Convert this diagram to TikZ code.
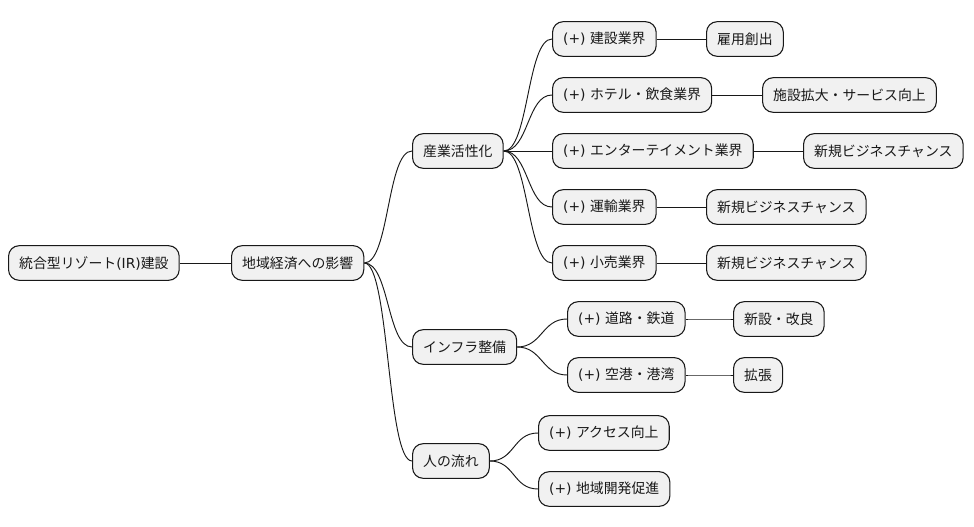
\documentclass[tikz,border=0pt]{standalone}
\usepackage{fontspec}
\setmainfont{Noto Sans CJK JP}
\newfontfamily\latinfont{DejaVu Sans}
\usetikzlibrary{positioning}
\definecolor{Ink}{RGB}{24,24,24}
\definecolor{SoftGray}{RGB}{241,241,241}
\newcommand{\plusmark}{{\latinfont (+)\ }}
\tikzset{
  topic/.style={draw=Ink,line width=.8pt,rounded corners=8pt,fill=SoftGray,text=Ink,anchor=west,font=\fontsize{10.4}{12}\selectfont,minimum height=26pt,inner xsep=8pt,inner ysep=2pt},
  link/.style={draw=Ink,line width=.7pt,to path={.. controls +(25,0) and +(-25,0) .. (\tikztotarget)}}
}
\begin{document}
\begin{tikzpicture}[x=.75pt,y=-.75pt]
  \useasboundingbox[fill=white] (0,0) rectangle (974,527);
  \node[topic] (root) at (8,263) {統合型リゾート{\latinfont (IR)}建設};
  \node[topic] (econ) at (231,263) {地域経済への影響};
  \node[topic] (ind) at (412,151) {産業活性化};
  \node[topic] (infra) at (412,347) {インフラ整備};
  \node[topic] (people) at (412,461) {人の流れ};
  \node[topic] (ind1) at (552,39) {\plusmark 建設業界};
  \node[topic] (ind2) at (552,95) {\plusmark ホテル・飲食業界};
  \node[topic] (ind3) at (552,151) {\plusmark エンターテイメント業界};
  \node[topic] (ind4) at (552,207) {\plusmark 運輸業界};
  \node[topic] (ind5) at (552,263) {\plusmark 小売業界};
  \node[topic] (eff1) at (706,39) {雇用創出};
  \node[topic] (eff2) at (762,95) {施設拡大・サービス向上};
  \node[topic] (eff3) at (803,151) {新規ビジネスチャンス};
  \node[topic] (eff4) at (706,207) {新規ビジネスチャンス};
  \node[topic] (eff5) at (706,263) {新規ビジネスチャンス};
  \node[topic] (inf1) at (567,319) {\plusmark 道路・鉄道};
  \node[topic] (inf2) at (567,375) {\plusmark 空港・港湾};
  \node[topic] (infx1) at (733,319) {新設・改良};
  \node[topic] (infx2) at (733,375) {拡張};
  \node[topic] (ppl1) at (538,433) {\plusmark アクセス向上};
  \node[topic] (ppl2) at (538,489) {\plusmark 地域開発促進};
  \foreach \a/\b in {root/econ,econ/ind,econ/infra,econ/people,ind/ind1,ind/ind2,ind/ind3,ind/ind4,ind/ind5,ind1/eff1,ind2/eff2,ind3/eff3,ind4/eff4,ind5/eff5,infra/inf1,infra/inf2,inf1/infx1,inf2/infx2,people/ppl1,people/ppl2}{\draw[link] (\a.east) to (\b.west);}
\end{tikzpicture}
\end{document}
